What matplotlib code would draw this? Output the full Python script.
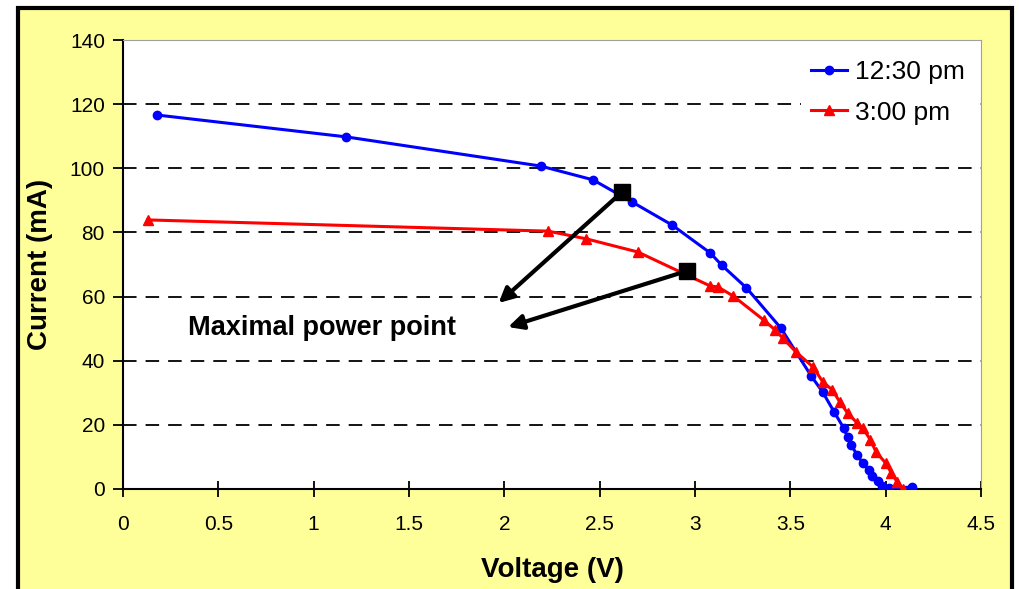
import matplotlib
matplotlib.use("Agg")
import matplotlib.pyplot as plt
from matplotlib.patches import Rectangle

plt.rcParams['font.family'] = ['Liberation Sans', 'DejaVu Sans']

# 12:30 pm series
v_1230 = [0.18, 1.17, 2.19, 2.465, 2.67, 2.88, 3.08, 3.14, 3.27, 3.45, 3.61, 3.67,
          3.73, 3.78, 3.80, 3.82, 3.85, 3.88, 3.91, 3.93, 3.96, 3.98, 4.02, 4.14]
i_1230 = [116.6, 109.8, 100.7, 96.4, 89.5, 82.3, 73.6, 69.8, 62.7, 50.2, 35.2, 30.2,
          24.0, 19.0, 16.2, 13.7, 10.6, 8.1, 5.9, 4.0, 2.5, 0.9, 0.3, 0.6]

# 3:00 pm series
v_300 = [0.13, 2.23, 2.43, 2.70, 3.08, 3.12, 3.20, 3.36, 3.42, 3.46, 3.53, 3.62, 3.67,
         3.72, 3.76, 3.80, 3.85, 3.88, 3.92, 3.95, 4.00, 4.03, 4.06, 4.09]
i_300 = [83.9, 80.4, 78.0, 73.9, 63.3, 63.0, 60.2, 52.7, 49.6, 47.1, 42.7, 38.0, 33.4,
         30.9, 27.1, 23.7, 20.6, 19.0, 15.3, 11.5, 8.1, 5.0, 2.2, 0.0]

# maximal power points and annotation arrow tips
mpp_v = [2.617, 2.958]
mpp_i = [92.6, 68.0]
arrow_tip_v = [1.97, 2.02]
arrow_tip_i = [58.0, 50.5]

x_ticks = [0, 0.5, 1, 1.5, 2, 2.5, 3, 3.5, 4, 4.5]
x_tick_labels = ["0", "0.5", "1", "1.5", "2", "2.5", "3", "3.5", "4", "4.5"]
y_ticks = [0, 20, 40, 60, 80, 100, 120, 140]

W, H = 1019, 589
fig = plt.figure(figsize=(W / 100, H / 100), dpi=100, facecolor='white')

# yellow frame
fig.patches.append(Rectangle((18 / W, -0.05), (1012 - 18) / W, (H - 8) / H + 0.05,
                             transform=fig.transFigure, facecolor='#FFFF99',
                             edgecolor='black', linewidth=3, zorder=-10))

ax = fig.add_axes([123 / W, (H - 489) / H, (981 - 123) / W, (489 - 40) / H])
ax.set_zorder(5)
ax.set_facecolor('white')

for y in y_ticks[1:-1]:
    ax.axhline(y, color='black', linestyle=(0, (7.5, 5)), linewidth=1.3, zorder=1)

ax.plot(v_1230, i_1230, color='#0000FF', marker='o', markersize=6, linewidth=2.2,
        label='12:30 pm', zorder=3)
ax.plot(v_300, i_300, color='#FF0000', marker='^', markersize=7, linewidth=2.2,
        label='3:00 pm', zorder=3)

for k in range(2):
    ax.annotate('', xy=(arrow_tip_v[k], arrow_tip_i[k]), xytext=(mpp_v[k], mpp_i[k]),
                arrowprops=dict(arrowstyle='-|>', color='black', lw=3,
                                mutation_scale=22, shrinkA=0, shrinkB=0), zorder=4)
ax.plot(mpp_v, mpp_i, linestyle='none', marker='s', markersize=11, color='black', zorder=5)

ax.text(0.34, 50.2, 'Maximal power point', fontsize=19.5, fontweight='bold',
        va='center', ha='left', zorder=6)

ax.set_xlim(0, 4.5)
ax.set_ylim(0, 140)
ax.set_xticks(x_ticks)
ax.set_xticklabels(x_tick_labels)
ax.set_yticks(y_ticks)
ax.tick_params(axis='x', direction='inout', length=12, width=1.3, labelsize=15, pad=13)
ax.tick_params(axis='y', direction='out', length=7, width=1.3, labelsize=15, pad=6)

for s in ['top', 'right']:
    ax.spines[s].set_color('#a0a0a0')
    ax.spines[s].set_linewidth(0.8)
ax.spines['left'].set_linewidth(1.5)
ax.spines['bottom'].set_linewidth(1.5)

ax.set_xlabel('Voltage (V)', fontsize=20, fontweight='bold', labelpad=16)
ax.set_ylabel('Current (mA)', fontsize=20, fontweight='bold', labelpad=12)

leg = ax.legend(loc='upper left', bbox_to_anchor=(0.790, 0.978), borderaxespad=0,
                frameon=True, facecolor='white', edgecolor='none', framealpha=1,
                fancybox=False, fontsize=19, handlelength=1.35, borderpad=0.4,
                labelspacing=0.61, handletextpad=0.3)
leg.set_zorder(10)

fig.savefig('out.png', dpi=100, facecolor='white')
